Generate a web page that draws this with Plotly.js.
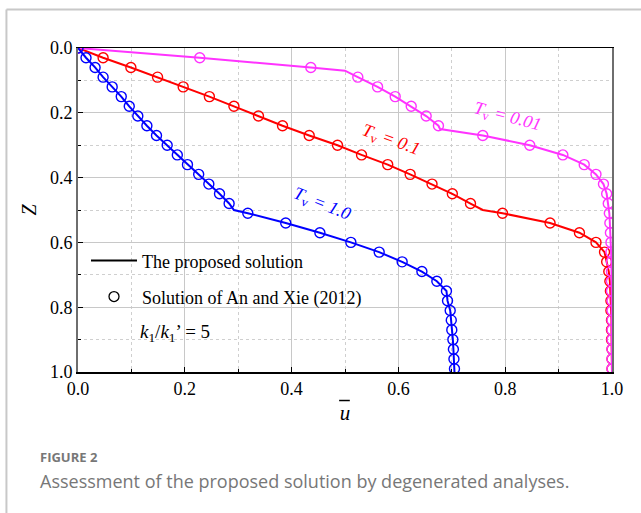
<!DOCTYPE html>
<html>
<head>
<meta charset="utf-8">
<script src="https://cdn.plot.ly/plotly-3.0.1.min.js"></script>
<style>
html,body{margin:0;padding:0;background:#fff;}
#chart{width:641px;height:513px;}
</style>
</head>
<body>
<div id="chart"></div>
<script>
// ---- Data ----
// Proposed solution (lines): Tv = 1.0
const lineZ_T1 = [0,0.03,0.06,0.09,0.12,0.15,0.18,0.21,0.24,0.27,0.30,0.33,0.36,0.39,0.42,0.45,0.48,0.50,0.51,0.54,0.57,0.60,0.63,0.66,0.69,0.72,0.75,0.78,0.81,0.84,0.87,0.90,0.93,0.96,0.99,1.00];
const lineU_T1 = [0,0.015,0.032,0.047,0.064,0.081,0.096,0.112,0.129,0.147,0.167,0.186,0.205,0.226,0.245,0.265,0.283,0.292,0.318,0.389,0.453,0.511,0.564,0.607,0.644,0.672,0.690,0.692,0.697,0.699,0.700,0.702,0.703,0.704,0.705,0.705];
// Proposed solution (lines): Tv = 0.1
const lineZ_T01 = [0,0.03,0.06,0.09,0.12,0.15,0.18,0.21,0.24,0.27,0.30,0.33,0.36,0.39,0.42,0.45,0.48,0.50,0.51,0.54,0.57,0.60,0.63,0.66,0.69,0.72,0.75,0.78,0.81,0.84,0.87,0.90,0.93,0.96,0.99,1.00];
const lineU_T01 = [0,0.047,0.099,0.149,0.197,0.246,0.292,0.338,0.383,0.433,0.486,0.531,0.580,0.622,0.663,0.701,0.735,0.758,0.795,0.884,0.939,0.970,0.986,0.990,0.994,0.996,0.997,0.998,0.998,0.999,0.999,0.999,1.000,1.000,1.000,1.000];
// Proposed solution (lines): Tv = 0.01
const lineZ_T001 = [0,0.03,0.06,0.07,0.09,0.12,0.15,0.18,0.21,0.24,0.25,0.27,0.30,0.33,0.36,0.39,0.42,0.45,0.48,0.51,0.54,0.57,0.60,0.63,0.66,0.69,0.72,0.75,0.78,0.81,0.84,0.87,0.90,0.93,0.96,0.99,1.00];
const lineU_T001 = [0,0.228,0.436,0.500,0.524,0.561,0.594,0.624,0.652,0.675,0.678,0.758,0.846,0.908,0.948,0.970,0.984,0.990,0.993,0.995,0.996,0.997,0.998,0.998,0.999,0.999,0.999,0.999,1.000,1.000,1.000,1.000,1.000,1.000,1.000,1.000,1.000];

// Solution of An and Xie (2012) (circles)
const ptZ = [0,0.03,0.06,0.09,0.12,0.15,0.18,0.21,0.24,0.27,0.30,0.33,0.36,0.39,0.42,0.45,0.48,0.51,0.54,0.57,0.60,0.63,0.66,0.69,0.72,0.75,0.78,0.81,0.84,0.87,0.90,0.93,0.96,0.99];
const ptU_T1 = [0,0.015,0.032,0.047,0.064,0.081,0.096,0.112,0.129,0.147,0.167,0.186,0.205,0.226,0.245,0.265,0.283,0.318,0.389,0.453,0.511,0.564,0.607,0.644,0.672,0.690,0.692,0.697,0.699,0.700,0.702,0.703,0.704,0.705];
const ptU_T01 = [0,0.047,0.099,0.149,0.197,0.246,0.292,0.338,0.383,0.433,0.486,0.531,0.580,0.622,0.663,0.701,0.735,0.795,0.884,0.939,0.970,0.986,0.990,0.994,0.996,0.997,0.998,0.998,0.999,0.999,0.999,1.000,1.000,1.000];
const ptU_T001 = [0,0.228,0.436,0.524,0.561,0.594,0.624,0.652,0.675,0.758,0.846,0.908,0.948,0.970,0.984,0.990,0.993,0.995,0.996,0.997,0.998,0.998,0.999,0.999,0.999,0.999,1.000,1.000,1.000,1.000,1.000,1.000,1.000,1.000];

const seriesNames = ['T<sub>v</sub> = 1.0','T<sub>v</sub> = 0.1','T<sub>v</sub> = 0.01'];
const legendNames = ['The proposed solution','Solution of An and Xie (2012)'];
const tickVals = [0,0.2,0.4,0.6,0.8,1.0];
const tickText = ['0.0','0.2','0.4','0.6','0.8','1.0'];

// ---- Styles ----
const SERIF = '"Liberation Serif", serif';
const SANS = '"Open Sans", "Noto Sans", sans-serif';
const cRed = '#FF0000', cMag = '#FF33FF', cBlue = '#0000FF';

function lineTrace(x, y, color, name){
  return {x:x, y:y, type:'scatter', mode:'lines', name:name, showlegend:false,
          line:{color:color, width:2}, hoverinfo:'x+y'};
}
function ptTrace(x, y, color, name){
  return {x:x, y:y, type:'scatter', mode:'markers', name:name, showlegend:false,
          marker:{symbol:'circle-open', size:10, color:color, line:{width:1.4, color:color}}};
}

const traces = [
  lineTrace(lineU_T01, lineZ_T01, cRed, seriesNames[1]),
  ptTrace(ptU_T01, ptZ, cRed, seriesNames[1]),
  lineTrace(lineU_T001, lineZ_T001, cMag, seriesNames[2]),
  ptTrace(ptU_T001, ptZ, cMag, seriesNames[2]),
  lineTrace(lineU_T1, lineZ_T1, cBlue, seriesNames[0]),
  ptTrace(ptU_T1, ptZ, cBlue, seriesNames[0]),
  // legend entries
  {x:[null], y:[null], type:'scatter', mode:'lines', name:legendNames[0], legend:'legend',
   showlegend:true, line:{color:'#000', width:2}},
  {x:[null], y:[null], type:'scatter', mode:'markers', name:legendNames[1], legend:'legend2',
   showlegend:true, marker:{symbol:'circle-open', size:10, color:'#000', line:{width:1.3, color:'#000'}}}
];

const legendCommon = {xref:'paper', yref:'paper', xanchor:'left', yanchor:'middle',
  bgcolor:'rgba(0,0,0,0)', borderwidth:0, itemwidth:46,
  font:{family:SERIF, size:18, color:'#000'}};

const layout = {
  width:641, height:513,
  margin:{l:78, r:29, t:48, b:141},
  paper_bgcolor:'#fff', plot_bgcolor:'#fff',
  showlegend:true,
  legend:Object.assign({}, legendCommon, {x:0.015, y:0.343}),
  legend2:Object.assign({}, legendCommon, {x:0.015, y:0.232}),
  xaxis:{
    range:[0,1], tickvals:tickVals, ticktext:tickText,
    ticks:'inside', ticklen:5, tickwidth:1, tickcolor:'#000',
    showline:true, linecolor:'#000', linewidth:1.5, mirror:true,
    showgrid:true, gridcolor:'#c8c8c8', gridwidth:1, zeroline:false,
    minor:{dtick:0.1, ticks:'inside', ticklen:3, tickcolor:'#000', showgrid:true, gridcolor:'#cfcfcf', griddash:'dot', gridwidth:1},
    tickfont:{family:SERIF, size:18, color:'#000'},
    title:{text:'<i>u</i>', font:{family:SERIF, size:21, color:'#000'}, standoff:7}
  },
  yaxis:{
    range:[1,0], tickvals:tickVals, ticktext:tickText,
    ticks:'inside', ticklen:5, tickwidth:1, tickcolor:'#000',
    showline:true, linecolor:'#6e6e6e', linewidth:2, mirror:true,
    showgrid:true, gridcolor:'#c8c8c8', gridwidth:1, zeroline:false,
    minor:{dtick:0.1, ticks:'inside', ticklen:3, tickcolor:'#000', showgrid:true, gridcolor:'#cfcfcf', griddash:'dot', gridwidth:1},
    tickfont:{family:SERIF, size:18, color:'#000'},
    title:{text:'<i>Z</i>', font:{family:SERIF, size:20, color:'#000'}, standoff:8}
  },
  annotations:[
    {x:0.805, y:0.213, xref:'x', yref:'y', text:'<i>T</i><sub>v</sub> <i>= 0.01</i>', showarrow:false,
     textangle:15, font:{family:SERIF, size:18, color:cMag}},
    {x:0.586, y:0.284, xref:'x', yref:'y', text:'<i>T</i><sub>v</sub> <i>= 0.1</i>', showarrow:false,
     textangle:20, font:{family:SERIF, size:18, color:cRed}},
    {x:0.456, y:0.482, xref:'x', yref:'y', text:'<i>T</i><sub>v</sub> <i>= 1.0</i>', showarrow:false,
     textangle:22, font:{family:SERIF, size:18, color:cBlue}},
    {x:0.112, y:0.88, xref:'x', yref:'y', xanchor:'left', yanchor:'middle',
     text:'<i>k</i><sub>1</sub>/<i>k</i><sub>1</sub>\u2019 = 5', showarrow:false,
     font:{family:SERIF, size:19, color:'#000'}},
    {x:-0.075, y:-0.263, xref:'paper', yref:'paper', xanchor:'left', yanchor:'middle',
     text:'<b>FIGURE 2</b>', showarrow:false, font:{family:SANS, size:13, color:'#777'}},
    {x:-0.075, y:-0.336, xref:'paper', yref:'paper', xanchor:'left', yanchor:'middle',
     text:'Assessment of the proposed solution by degenerated analyses.', showarrow:false,
     font:{family:SANS, size:18, color:'#777'}}
  ],
  shapes:[
    // overline on u
    {type:'line', xref:'paper', yref:'paper', x0:0.489, x1:0.509, y0:-0.088, y1:-0.088,
     line:{color:'#000', width:1.5}},
    // figure frame (top and left)
    {type:'line', xref:'paper', yref:'paper', x0:-0.134, x1:1.06, y0:1.119, y1:1.119,
     line:{color:'#c8c8c8', width:2}},
    {type:'line', xref:'paper', yref:'paper', x0:-0.134, x1:-0.134, y0:1.119, y1:-0.44,
     line:{color:'#c8c8c8', width:2}}
  ]
};

Plotly.newPlot('chart', traces, layout, {displayModeBar:false, staticPlot:true});
</script>
</body>
</html>
